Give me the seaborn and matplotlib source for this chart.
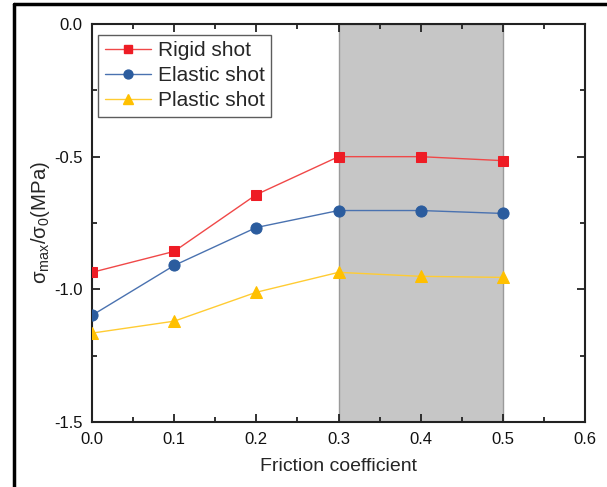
import matplotlib
matplotlib.use("Agg")
import matplotlib.pyplot as plt
import seaborn as sns
import pandas as pd
from matplotlib.ticker import MultipleLocator
from matplotlib.lines import Line2D

sns.set_style("ticks")
plt.rcParams['font.family'] = ['Liberation Sans', 'DejaVu Sans']
plt.rcParams['mathtext.fontset'] = 'custom'
plt.rcParams['mathtext.rm'] = 'Liberation Sans'
plt.rcParams['mathtext.it'] = 'Liberation Sans'

friction = [0.0, 0.1, 0.2, 0.3, 0.4, 0.5]
rigid = [-0.936, -0.857, -0.643, -0.500, -0.500, -0.515]
elastic = [-1.098, -0.910, -0.767, -0.703, -0.703, -0.714]
plastic = [-1.165, -1.120, -1.011, -0.936, -0.951, -0.955]
series_names = ["Rigid shot", "Elastic shot", "Plastic shot"]
shade_range = [0.3, 0.5]

colors = ["#ee1c25", "#2b5c9e", "#ffc000"]
line_colors = ["#f04848", "#4a72b0", "#ffcc33"]
markers = ["s", "o", "^"]
msizes = [7, 8, 8.5]

df = pd.DataFrame({
    "friction": friction * 3,
    "value": rigid + elastic + plastic,
    "series": sum([[n] * len(friction) for n in series_names], []),
})

fig = plt.figure(figsize=(6.07, 4.87), dpi=100)
ax = fig.add_axes([92 / 607, 1 - 422 / 487, (585 - 92) / 607, (422 - 24) / 487])

ax.axvspan(shade_range[0], shade_range[1], facecolor="#c6c6c6", edgecolor="#9a9a9a",
           linewidth=1.0, zorder=0)

for name, c, lc, m, ms in zip(series_names, colors, line_colors, markers, msizes):
    sub = df[df["series"] == name]
    sns.lineplot(data=sub, x="friction", y="value", ax=ax, color=lc, linewidth=1.0,
                 marker=m, markersize=ms, markerfacecolor=c, markeredgecolor=c,
                 label=name, legend=False, zorder=3)

ax.set_xlim(0.0, 0.6)
ax.set_ylim(-1.5, 0.0)
ax.xaxis.set_major_locator(MultipleLocator(0.1))
ax.xaxis.set_minor_locator(MultipleLocator(0.05))
ax.yaxis.set_major_locator(MultipleLocator(0.5))
ax.yaxis.set_minor_locator(MultipleLocator(0.25))
ax.xaxis.set_major_formatter(matplotlib.ticker.FormatStrFormatter("%.1f"))
ax.yaxis.set_major_formatter(matplotlib.ticker.FuncFormatter(lambda v, p: f"{v:.1f}".replace("-0.0", "0.0")))
ax.tick_params(which="both", direction="in", top=True, right=True, labeltop=False,
               labelright=False, width=1.3, colors="#222222", labelcolor="#111111")
ax.tick_params(which="major", length=6, labelsize=12, pad=7)
ax.tick_params(which="minor", length=3.5)
for s in ax.spines.values():
    s.set_linewidth(1.5)
    s.set_color("#222222")

ax.set_xlabel("Friction coefficient", fontsize=14, labelpad=8)
ax.set_ylabel(r"$\sigma_{\mathrm{max}}/\sigma_0$(MPa)", fontsize=14.7, labelpad=1)

handles = [Line2D([0], [0], color=lc, marker=m, markersize=ms * 0.8, markerfacecolor=c,
                  markeredgecolor=c, linewidth=1.0)
           for c, lc, m, ms in zip(colors, line_colors, markers, msizes)]
leg = ax.legend(handles, series_names, loc="upper left", bbox_to_anchor=(0.012, 0.973),
                fontsize=15, frameon=True, fancybox=False, edgecolor="#333333",
                handlelength=2.25, handletextpad=0.3, borderpad=0.32, labelspacing=0.28,
                borderaxespad=0.0)
leg.get_frame().set_linewidth(1.0)

# outer frame lines of the original figure
fig.add_artist(Line2D([14 / 607, 14 / 607], [0, 1 - 4 / 487], transform=fig.transFigure,
                      color="black", linewidth=2.5))
fig.add_artist(Line2D([14 / 607, 1], [1 - 4 / 487, 1 - 4 / 487], transform=fig.transFigure,
                      color="black", linewidth=2.5))

fig.savefig("out.png", dpi=100, facecolor="white")
